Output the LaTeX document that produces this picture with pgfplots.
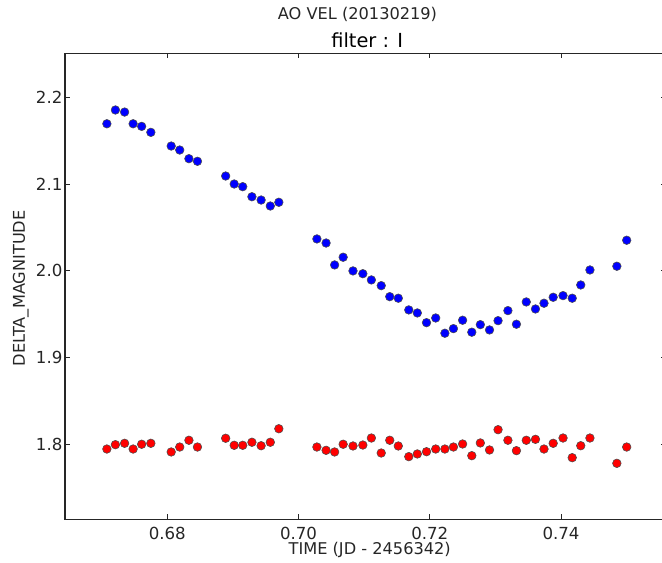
\documentclass[border=0pt]{standalone}
\usepackage{fontspec}
\setmainfont{DejaVu Sans}
\usepackage{pgfplots}
\usepackage{pgfplotstable}
\pgfplotsset{compat=1.18}

\pgfplotstableread{
t blue red
0.6708 2.1695 1.7942
0.6721 2.1854 1.7992
0.6735 2.1830 1.8008
0.6748 2.1695 1.7942
0.6761 2.1665 1.7997
0.6775 2.1596 1.8008
0.6806 2.1438 1.7908
0.6819 2.1392 1.7965
0.6833 2.1292 1.8043
0.6846 2.1262 1.7965
0.6889 2.1092 1.8066
0.6902 2.1000 1.7985
0.6915 2.0969 1.7985
0.6929 2.0853 1.8020
0.6943 2.0815 1.7980
0.6957 2.0746 1.8020
0.6970 2.0789 1.8176
0.7028 2.0366 1.7965
0.7042 2.0319 1.7927
0.7055 2.0066 1.7908
0.7068 2.0155 1.7997
0.7083 1.9997 1.7977
0.7098 1.9965 1.7988
0.7111 1.9893 1.8069
0.7126 1.9827 1.7896
0.7139 1.9700 1.8043
0.7152 1.9682 1.7977
0.7168 1.9547 1.7854
0.7181 1.9512 1.7885
0.7195 1.9400 1.7911
0.7209 1.9454 1.7942
0.7223 1.9278 1.7942
0.7236 1.9331 1.7965
0.7250 1.9428 1.8000
0.7264 1.9290 1.7865
0.7277 1.9377 1.8012
0.7291 1.9316 1.7931
0.7304 1.9423 1.8165
0.7319 1.9539 1.8043
0.7332 1.9382 1.7923
0.7347 1.9639 1.8043
0.7361 1.9558 1.8054
0.7374 1.9624 1.7942
0.7388 1.9693 1.8008
0.7403 1.9712 1.8069
0.7417 1.9682 1.7842
0.7430 1.9835 1.7980
0.7444 2.0008 1.8069
0.7485 2.0051 1.7777
0.7500 2.0351 1.7965
}\datatable

\begin{document}
\begin{tikzpicture}
\begin{axis}[
  scale only axis,
  width=432.72bp, height=335.52bp,
  xmin=0.66442, xmax=0.75599,
  ymin=1.7131, ymax=2.2508,
  clip=false,
  axis line style={line width=0.8bp, black!85},
  tick style={line width=0.6bp, black!85},
  major tick length=3.6bp,
  xtick={0.68,0.70,0.72,0.74},
  ytick={1.8,1.9,2.0,2.1,2.2},
  /pgf/number format/assume math mode=true,
  xticklabel style={/pgf/number format/.cd, fixed, fixed zerofill, precision=2, /tikz/.cd,
    font=\fontsize{12}{14}\selectfont, inner sep=0pt, anchor=north, yshift=-5.3bp, text=black!85},
  yticklabel style={/pgf/number format/.cd, fixed, fixed zerofill, precision=1, /tikz/.cd,
    font=\fontsize{12}{14}\selectfont, inner sep=0pt, anchor=east, xshift=-1.7bp, text=black!85},
  scaled x ticks=false,
]
\addplot[only marks, mark=*, mark size=3.1bp,
  mark options={fill={rgb,255:red,0;green,0;blue,255}, draw=black!70, line width=0.4bp}]
  table[x=t, y=blue] {\datatable};
\addplot[only marks, mark=*, mark size=3.1bp,
  mark options={fill={rgb,255:red,255;green,0;blue,0}, draw=black!70, line width=0.4bp}]
  table[x=t, y=red] {\datatable};

\node[xshift=210.6bp, yshift=24.48bp, anchor=base, font=\fontsize{11.7}{14}\selectfont, text=black!85]
  at (rel axis cs:0,1) {AO VEL (20130219)};
\node[xshift=217.6bp, yshift=4.03bp, anchor=base, font=\fontsize{14}{16}\selectfont, text=black]
  at (rel axis cs:0,1) {filter : I};
\node[xshift=219.4bp, yshift=-25.7bp, anchor=base, font=\fontsize{11.7}{14}\selectfont, text=black!85]
  at (rel axis cs:0,0) {TIME (JD - 2456342)};
\node[xshift=-28.8bp, yshift=-1.44bp, rotate=90, anchor=base, font=\fontsize{11.7}{14}\selectfont, text=black!85]
  at (rel axis cs:0,0.5) {DELTA\_MAGNITUDE};
\end{axis}
\pgfresetboundingbox
\path[use as bounding box] (current axis.south west) ++(-46.8bp,-31.46bp) rectangle ++(476.64bp,405.36bp);
\end{tikzpicture}
\end{document}
